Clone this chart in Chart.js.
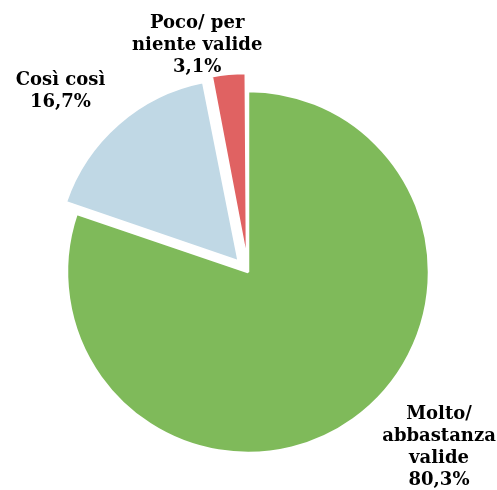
<!DOCTYPE html>
<html>
<head>
<meta charset="utf-8">
<script src="https://cdn.jsdelivr.net/npm/chart.js@4"></script>
<style>
    html, body { margin: 0; padding: 0; background: #fff; }
    #wrap { width: 497px; height: 490px; }
</style>
</head>
<body>
<div id="wrap"><canvas id="myChart" width="497" height="490"></canvas></div>
<script>
const categories = ['Molto/ abbastanza valide', 'Così così', 'Poco/ per niente valide'];
const values = [80.3, 16.7, 3.1];
const labelLines = [
    ['Molto/', 'abbastanza', 'valide', '80,3%'],
    ['Così così', '16,7%'],
    ['Poco/ per', 'niente valide', '3,1%']
];
const colors = ['#7fba5a', '#c0d8e5', '#e06262'];

// where each label sits: radial factor from the pie centre, then a nudge
const labelPlace = [
    { r: 1.12, dx: 73, dy: 11 },
    { r: 1.28, dx: -35, dy: -6 },
    { r: 1.07, dx: -32, dy: -34 }
];

document.addEventListener('DOMContentLoaded', function() {
    const ctx = document.getElementById('myChart').getContext('2d');

    const outsideLabels = {
        id: 'outsideLabels',
        afterDraw: (chart) => {
            const c = chart.ctx;
            const meta = chart.getDatasetMeta(0);
            c.save();
            c.font = 'bold 18px "DejaVu Serif"';
            c.fillStyle = '#000';
            c.textAlign = 'center';
            c.textBaseline = 'middle';
            meta.data.forEach((arc, i) => {
                const p = arc.getProps(['x', 'y', 'startAngle', 'endAngle', 'outerRadius'], true);
                const mid = (p.startAngle + p.endAngle) / 2;
                const place = labelPlace[i];
                const cx = p.x + Math.cos(mid) * p.outerRadius * place.r + place.dx;
                const cy = p.y + Math.sin(mid) * p.outerRadius * place.r + place.dy;
                const lines = labelLines[i];
                const lh = 22;
                const top = cy - (lines.length - 1) * lh / 2;
                lines.forEach((line, k) => c.fillText(line, cx, top + k * lh));
            });
            c.restore();
        }
    };

    new Chart(ctx, {
        type: 'pie',
        data: {
            labels: categories,
            datasets: [{
                data: values,
                backgroundColor: colors,
                borderColor: '#fff',
                borderWidth: 2.5,
                offset: [0, 56, 40],
                radius: 181
            }]
        },
        options: {
            responsive: false,
            animation: false,
            layout: { padding: { top: 64, bottom: 10, left: 10, right: 11 } },
            plugins: {
                legend: { display: false },
                tooltip: { enabled: false }
            }
        },
        plugins: [outsideLabels]
    });
});
</script>
</body>
</html>
